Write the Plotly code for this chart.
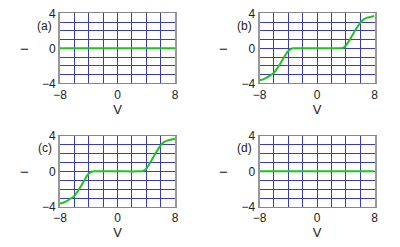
import plotly.graph_objects as go

# ---- data ----
v_flat = [-8, 8]
i_flat = [0, 0]

v_curve = [-8, -7.5, -7, -6.5, -6, -5.5, -5, -4.5, -4, -3.5, -3, 0, 3, 3.5, 4, 4.5, 5, 5.5, 6, 6.5, 7, 7.5, 8]
i_curve_b = [-3.66, -3.55, -3.35, -3.1, -2.8, -2.25, -1.6, -0.9, -0.3, -0.02, 0, 0, 0, 0.02, 0.3, 0.9, 1.6, 2.3, 2.9, 3.3, 3.5, 3.6, 3.68]
i_curve_c = [-3.62, -3.5, -3.3, -3.05, -2.75, -2.2, -1.55, -0.85, -0.25, -0.02, 0, 0, 0, 0.02, 0.28, 0.9, 1.6, 2.3, 2.9, 3.3, 3.48, 3.58, 3.64]

panel_labels = ["(a)", "(b)", "(c)", "(d)"]
x_tickvals = [-8, -6, -4, -2, 0, 2, 4, 6, 8]
x_ticktext = ["\u22128", "", "", "", "0", "", "", "", "8"]
y_tickvals = [-4, -3, -2, -1, 0, 1, 2, 3, 4]
y_ticktext = ["\u22124", "", "", "", "0", "", "", "", "4"]
x_title = "V"
y_title = "\u2212"

series = [(v_flat, i_flat), (v_curve, i_curve_b), (v_curve, i_curve_c), (v_flat, i_flat)]

W, H = 400, 247
boxes = [(60, 175, 13.3, 83.3), (259.5, 374.5, 13.3, 83.3),
         (60, 175, 135.7, 207), (259.5, 374.5, 135.7, 207)]

fig = go.Figure()
font = dict(family="Liberation Sans, Arial, sans-serif", size=12, color="#222")
grid_col = "#3c3caa"

for k, ((xs, ys), (l, r, t, b)) in enumerate(zip(series, boxes)):
    n = "" if k == 0 else str(k + 1)
    fig.add_trace(go.Scatter(x=xs, y=ys, mode="lines", line=dict(color="#22c022", width=2, shape="spline", smoothing=0.8),
                             xaxis="x" + n, yaxis="y" + n, showlegend=False, hoverinfo="skip"))
    fig.layout["xaxis" + n] = dict(domain=[l / W, r / W], range=[-8, 8], anchor="y" + n,
                                   tickvals=x_tickvals, ticktext=x_ticktext, showgrid=True,
                                   gridcolor=grid_col, gridwidth=1, zeroline=False, automargin=False,
                                   showline=True, linecolor="#888", linewidth=1, mirror=True,
                                   ticks="", tickfont=font,
                                   title=dict(text=x_title, font=dict(family=font["family"], size=13, color="#222"), standoff=2))
    fig.layout["yaxis" + n] = dict(domain=[1 - b / H, 1 - t / H], range=[-4, 4], anchor="x" + n,
                                   tickvals=y_tickvals, ticktext=y_ticktext, showgrid=True,
                                   gridcolor=grid_col, gridwidth=1, zeroline=False, automargin=False,
                                   showline=True, linecolor="#999", linewidth=2, mirror=True,
                                   ticks="", tickfont=font)
    fig.add_annotation(x=(l - 6) / W, y=1 - (t + 12.5) / H, xref="paper", yref="paper",
                       text=panel_labels[k], showarrow=False, xanchor="right", yanchor="middle",
                       font=dict(family=font["family"], size=12, color="#222"))
    fig.add_annotation(x=(l - 36) / W, y=1 - ((t + b) / 2) / H, xref="paper", yref="paper",
                       text=y_title, showarrow=False, xanchor="center", yanchor="middle",
                       font=dict(family=font["family"], size=15, color="#222"))

fig.update_layout(template="none", width=W, height=H, margin=dict(l=0, r=0, t=0, b=0),
                  paper_bgcolor="white", plot_bgcolor="white")
fig.write_html("out.html", config={"displayModeBar": False},
               post_script="document.body.style.margin='0';document.body.style.padding='0';")
